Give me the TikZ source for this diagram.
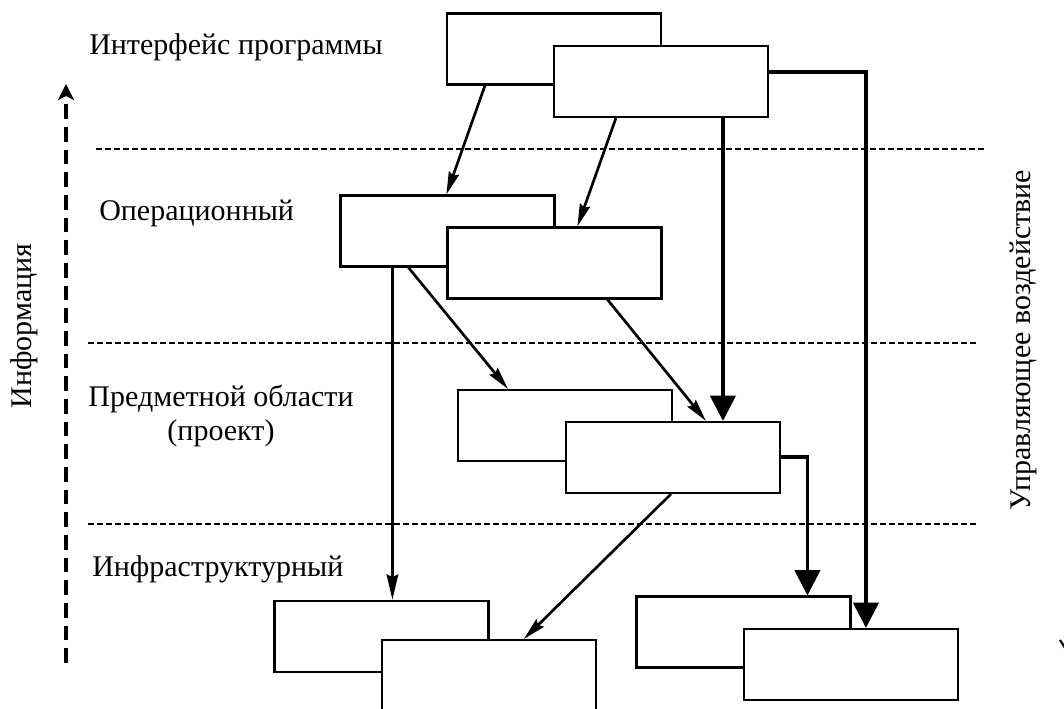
\documentclass[tikz,border=0pt]{standalone}
\usepackage{fontspec}
\setmainfont{Liberation Serif}
\usetikzlibrary{arrows.meta,calc}
\begin{document}
\begin{tikzpicture}[x=0.75pt,y=-0.75pt,
  box/.style={draw,fill=white,line width=1.6pt,minimum width=160.5pt,minimum height=53.25pt,inner sep=0pt},
  lbl/.style={font=\fontsize{22.5}{25.5}\selectfont,inner sep=0pt},
  sepline/.style={line width=1.7pt,dash pattern=on 4.5pt off 2.25pt},
  thinarr/.style={line width=2pt,-{Stealth[length=17pt,width=8pt,inset=2pt]}},
  thickarr/.style={line width=2.6pt,-{Triangle[length=19pt,width=19pt]}},
  thicknarrow/.style={line width=2.6pt,-{Stealth[length=19pt,width=8.5pt,inset=2pt]}},
  infoarr/.style={line width=3pt,dash pattern=on 11pt off 6pt,-{Stealth[length=12pt,width=12pt,inset=3pt]}}
]
\useasboundingbox (0,0) rectangle (1064,709);
\clip (0,0) rectangle (1064,709);

% separators
\draw[sepline] (96,149) coordinate (s1a) -- (985,149) coordinate (s1b);
\draw[sepline] (88,343) coordinate (s2a) -- (978,343) coordinate (s2b);
\draw[sepline] (88,524) coordinate (s3a) -- (978,524) coordinate (s3b);

% boxes
\node[box] (A1) at (554,49) {};
\node[box] (A2) at (661,81.5) {};
\node[box] (B1) at (447.5,231) {};
\node[box] (B2) at (554.5,263) {};
\node[box] (C1) at (565,425.5) {};
\node[box] (C2) at (673,457.5) {};
\node[box] (D1) at (381.5,636.5) {};
\node[box] (D2) at (489,675.5) {};
\node[box] (E1) at (743.5,632) {};
\node[box] (E2) at (851,664.5) {};

% labels
\node[lbl,anchor=base west] (t1) at (89,55) {Интерфейс программы};
\node[lbl,anchor=base west] (t2) at (99,221) {Операционный};
\node[lbl,align=center,anchor=base] (t3) at (221,440) {Предметной области\\(проект)};
\node[lbl,anchor=base west] (t4) at (92,576) {Инфраструктурный};
\node[lbl,rotate=90] (info) at (24,326) {Информация};
\node[lbl,rotate=90] (ctrl) at (1023,340) {Управляющее воздействие};

% information arrow
\coordinate (ib) at (66,663);
\coordinate (it) at (66,84);
\draw[infoarr] (ib) -- (it);

% connectors
\draw[thinarr] ($(A1.south west)+(39,0)$) -- ($(B1.north west)+(107,0)$);
\draw[thinarr] ($(A2.south west)+(63,0)$) -- ($(B2.north west)+(131,0)$);
\draw[thickarr] ($(A2.south west)+(170,0)$) -- ($(C2.north west)+(158,0)$);
\draw[thickarr] ($(A2.north east)+(0,27)$) -| ($(E2.north west)+(123,0)$);
\draw[thicknarrow] ($(B1.south west)+(53,0)$) -- ($(D1.north west)+(119,0)$);
\draw[thinarr] ($(B1.south west)+(69,0)$) -- ($(C1.north west)+(51,0)$);
\draw[thinarr] ($(B2.south west)+(161,0)$) -- ($(C2.north west)+(141,0)$);
\draw[thinarr] ($(C2.south west)+(106,0)$) -- ($(D2.north west)+(143,0)$);
\draw[thickarr] ($(C2.north east)+(0,36)$) -| ($(E1.north west)+(172,0)$);

% clipped fragment at right edge
\coordinate (f1) at (1060,640);
\coordinate (f2) at (1065,648);
\draw[line width=1.6pt] (f1) -- (f2);
\end{tikzpicture}
\end{document}
